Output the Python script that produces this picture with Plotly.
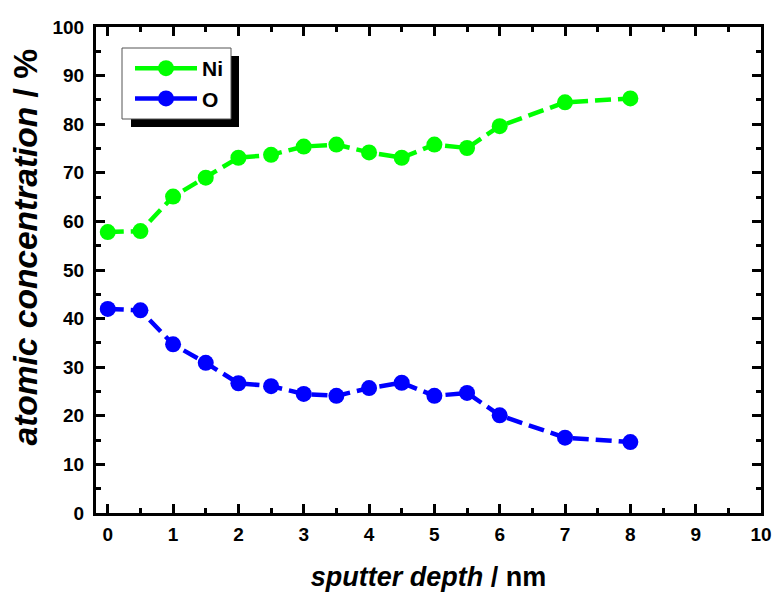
import plotly.graph_objects as go

depth = [0, 0.5, 1, 1.5, 2, 2.5, 3, 3.5, 4, 4.5, 5, 5.5, 6, 7, 8]
ni = [57.8, 58.0, 65.1, 69.0, 73.1, 73.7, 75.4, 75.8, 74.2, 73.1, 75.8, 75.1, 79.6, 84.5, 85.3]
o = [42.0, 41.7, 34.7, 30.9, 26.7, 26.1, 24.5, 24.1, 25.7, 26.8, 24.1, 24.7, 20.1, 15.5, 14.6]
x_ticks = list(range(0, 11))
y_ticks = list(range(0, 101, 10))

green = "#00ff00"
blue = "#0000ff"
font = "Liberation Sans, Arial, sans-serif"

fig = go.Figure()
for name, vals, col in [("Ni", ni, green), ("O", o, blue)]:
    fig.add_trace(go.Scatter(x=depth, y=vals, mode="lines+markers", showlegend=False,
                             line=dict(color=col, width=4.5, dash="16px,7px"),
                             marker=dict(color=col, size=16, symbol="circle")))
    fig.add_trace(go.Scatter(x=[None], y=[None], mode="lines+markers", name=name,
                             line=dict(color=col, width=4.5),
                             marker=dict(color=col, size=16, symbol="circle")))

W, H = 773, 592
L, R, T, B = 96, 12, 27, 79
pw, ph = W - L - R, H - T - B

def px(x):
    return (x - L) / pw

def py(y):
    return (H - B - y) / ph

axis_common = dict(showline=True, linecolor="black", linewidth=3, mirror="ticks",
                   ticks="inside", ticklen=9, tickwidth=3, tickcolor="black",
                   showgrid=False, zeroline=False, automargin=False,
                   tickfont=dict(family=font, size=19, color="black", weight="bold"))

fig.update_layout(
    width=W, height=H,
    margin=dict(l=L, r=R, t=T, b=B),
    paper_bgcolor="white", plot_bgcolor="white",
    xaxis=dict(range=[-0.18, 10.0], tickvals=x_ticks,
               minor=dict(dtick=0.5, ticks="inside", ticklen=5, tickwidth=3, tickcolor="black"),
               title=dict(text="<i>sputter depth</i> / nm", standoff=26,
                          font=dict(family=font, size=27, color="black", weight="bold")),
               ticklabelstandoff=2,
               **axis_common),
    yaxis=dict(range=[0, 100], tickvals=y_ticks,
               minor=dict(dtick=5, ticks="inside", ticklen=5, tickwidth=3, tickcolor="black"),
               ticklabelstandoff=5,
               **axis_common),
    annotations=[
        dict(text="<i>atomic concentration</i> / %", textangle=-90, showarrow=False,
             xref="paper", yref="paper", x=px(25), y=py(247.5), xanchor="center", yanchor="middle",
             font=dict(family=font, size=33.5, color="black", weight="bold")),
    ],
    legend=dict(x=px(130), y=py(48), xanchor="left", yanchor="top",
                bgcolor="rgba(0,0,0,0)", borderwidth=0, itemwidth=62,
                tracegroupgap=2,
                font=dict(family=font, size=21, color="black", weight="bold")),
    shapes=[
        dict(type="rect", xref="paper", yref="paper", x0=px(131), x1=px(239), y0=py(127), y1=py(56),
             fillcolor="black", line=dict(width=0), layer="above"),
        dict(type="rect", xref="paper", yref="paper", x0=px(122), x1=px(231), y0=py(119), y1=py(48),
             fillcolor="white", line=dict(color="#555555", width=1), layer="above"),
    ],
)

fig.write_html("out.html")
